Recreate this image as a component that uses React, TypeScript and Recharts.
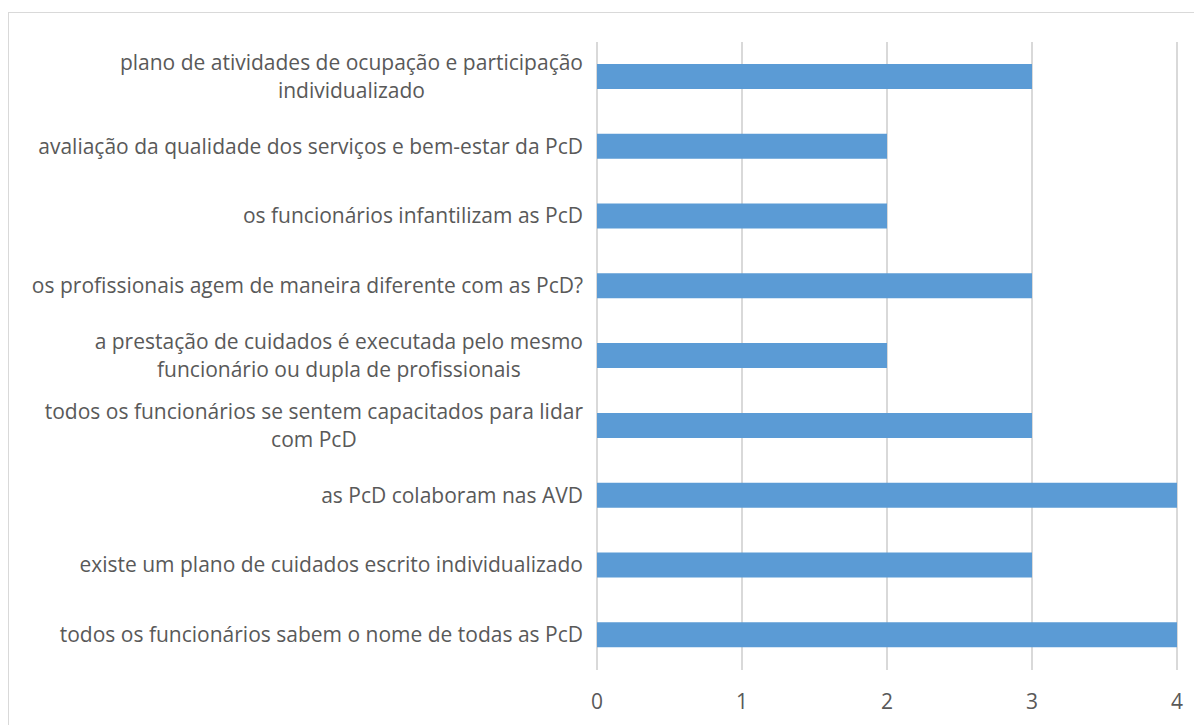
import React from 'react';
import { BarChart, Bar, XAxis, YAxis, CartesianGrid } from 'recharts';

// categories top to bottom, "\n" marks where the label wraps
const categories = [
  'plano de atividades de ocupação e participação\nindividualizado',
  'avaliação da qualidade dos serviços e bem-estar da PcD',
  'os funcionários infantilizam as PcD',
  'os profissionais agem de maneira diferente com as PcD?',
  'a prestação de cuidados é executada pelo mesmo\nfuncionário ou dupla de profissionais',
  'todos os funcionários se sentem capacitados para lidar\ncom PcD',
  'as PcD colaboram nas AVD',
  'existe um plano de cuidados escrito individualizado',
  'todos os funcionários sabem o nome de todas as PcD',
];
const values = [3, 2, 2, 3, 2, 3, 4, 3, 4];
const xTicks = [0, 1, 2, 3, 4];

const data = categories.map((name, i) => ({ name, value: values[i] }));

const FONT = '"Open Sans", Lato, sans-serif';
const TEXT = '#595959';
const FS = 21;

let ctx: CanvasRenderingContext2D | null = null;
const measure = (s: string) => {
  if (!ctx) ctx = document.createElement('canvas').getContext('2d');
  if (!ctx) return s.length * FS * 0.5;
  ctx.font = `${FS}px ${FONT}`;
  return ctx.measureText(s).width;
};

const CategoryTick = (props: any) => {
  const { x, y, payload } = props;
  const lines: string[] = String(payload.value).split('\n');
  const lh = 27.5;
  const start = -((lines.length - 1) * lh) / 2;
  // wrapped labels are centred on their widest line, right edge at the axis
  const w = Math.max(...lines.map(measure));
  const cx = x - w / 2;
  return (
    <text x={cx} y={y} textAnchor="middle" fill={TEXT} fontSize={FS} fontFamily={FONT}>
      {lines.map((l, i) => (
        <tspan key={i} x={cx} dy={i === 0 ? start + 7 : lh}>
          {l}
        </tspan>
      ))}
    </text>
  );
};

const App: React.FC = () => {
  return (
    <div
      style={{
        marginTop: 4,
        width: 1194,
        height: 713,
        borderTop: '1px solid #d9d9d9',
        borderLeft: '1px solid #d9d9d9',
        background: '#fff',
        overflow: 'hidden',
      }}
    >
      <BarChart
        width={1193}
        height={712}
        data={data}
        layout="vertical"
        margin={{ top: 29, right: 25, bottom: 25, left: 8 }}
      >
        <CartesianGrid horizontal={false} stroke="#d9d9d9" strokeWidth={2} />
        <XAxis
          type="number"
          domain={[0, 4]}
          ticks={xTicks}
          tickLine={false}
          axisLine={false}
          tickMargin={18}
          height={30}
          tick={{ fill: TEXT, fontSize: FS, fontFamily: FONT }}
        />
        <YAxis
          type="category"
          dataKey="name"
          width={580}
          tickLine={false}
          axisLine={false}
          tickMargin={8}
          interval={0}
          tick={<CategoryTick />}
        />
        <Bar dataKey="value" fill="#5b9bd5" barSize={25} isAnimationActive={false} />
      </BarChart>
    </div>
  );
};

export default App;
